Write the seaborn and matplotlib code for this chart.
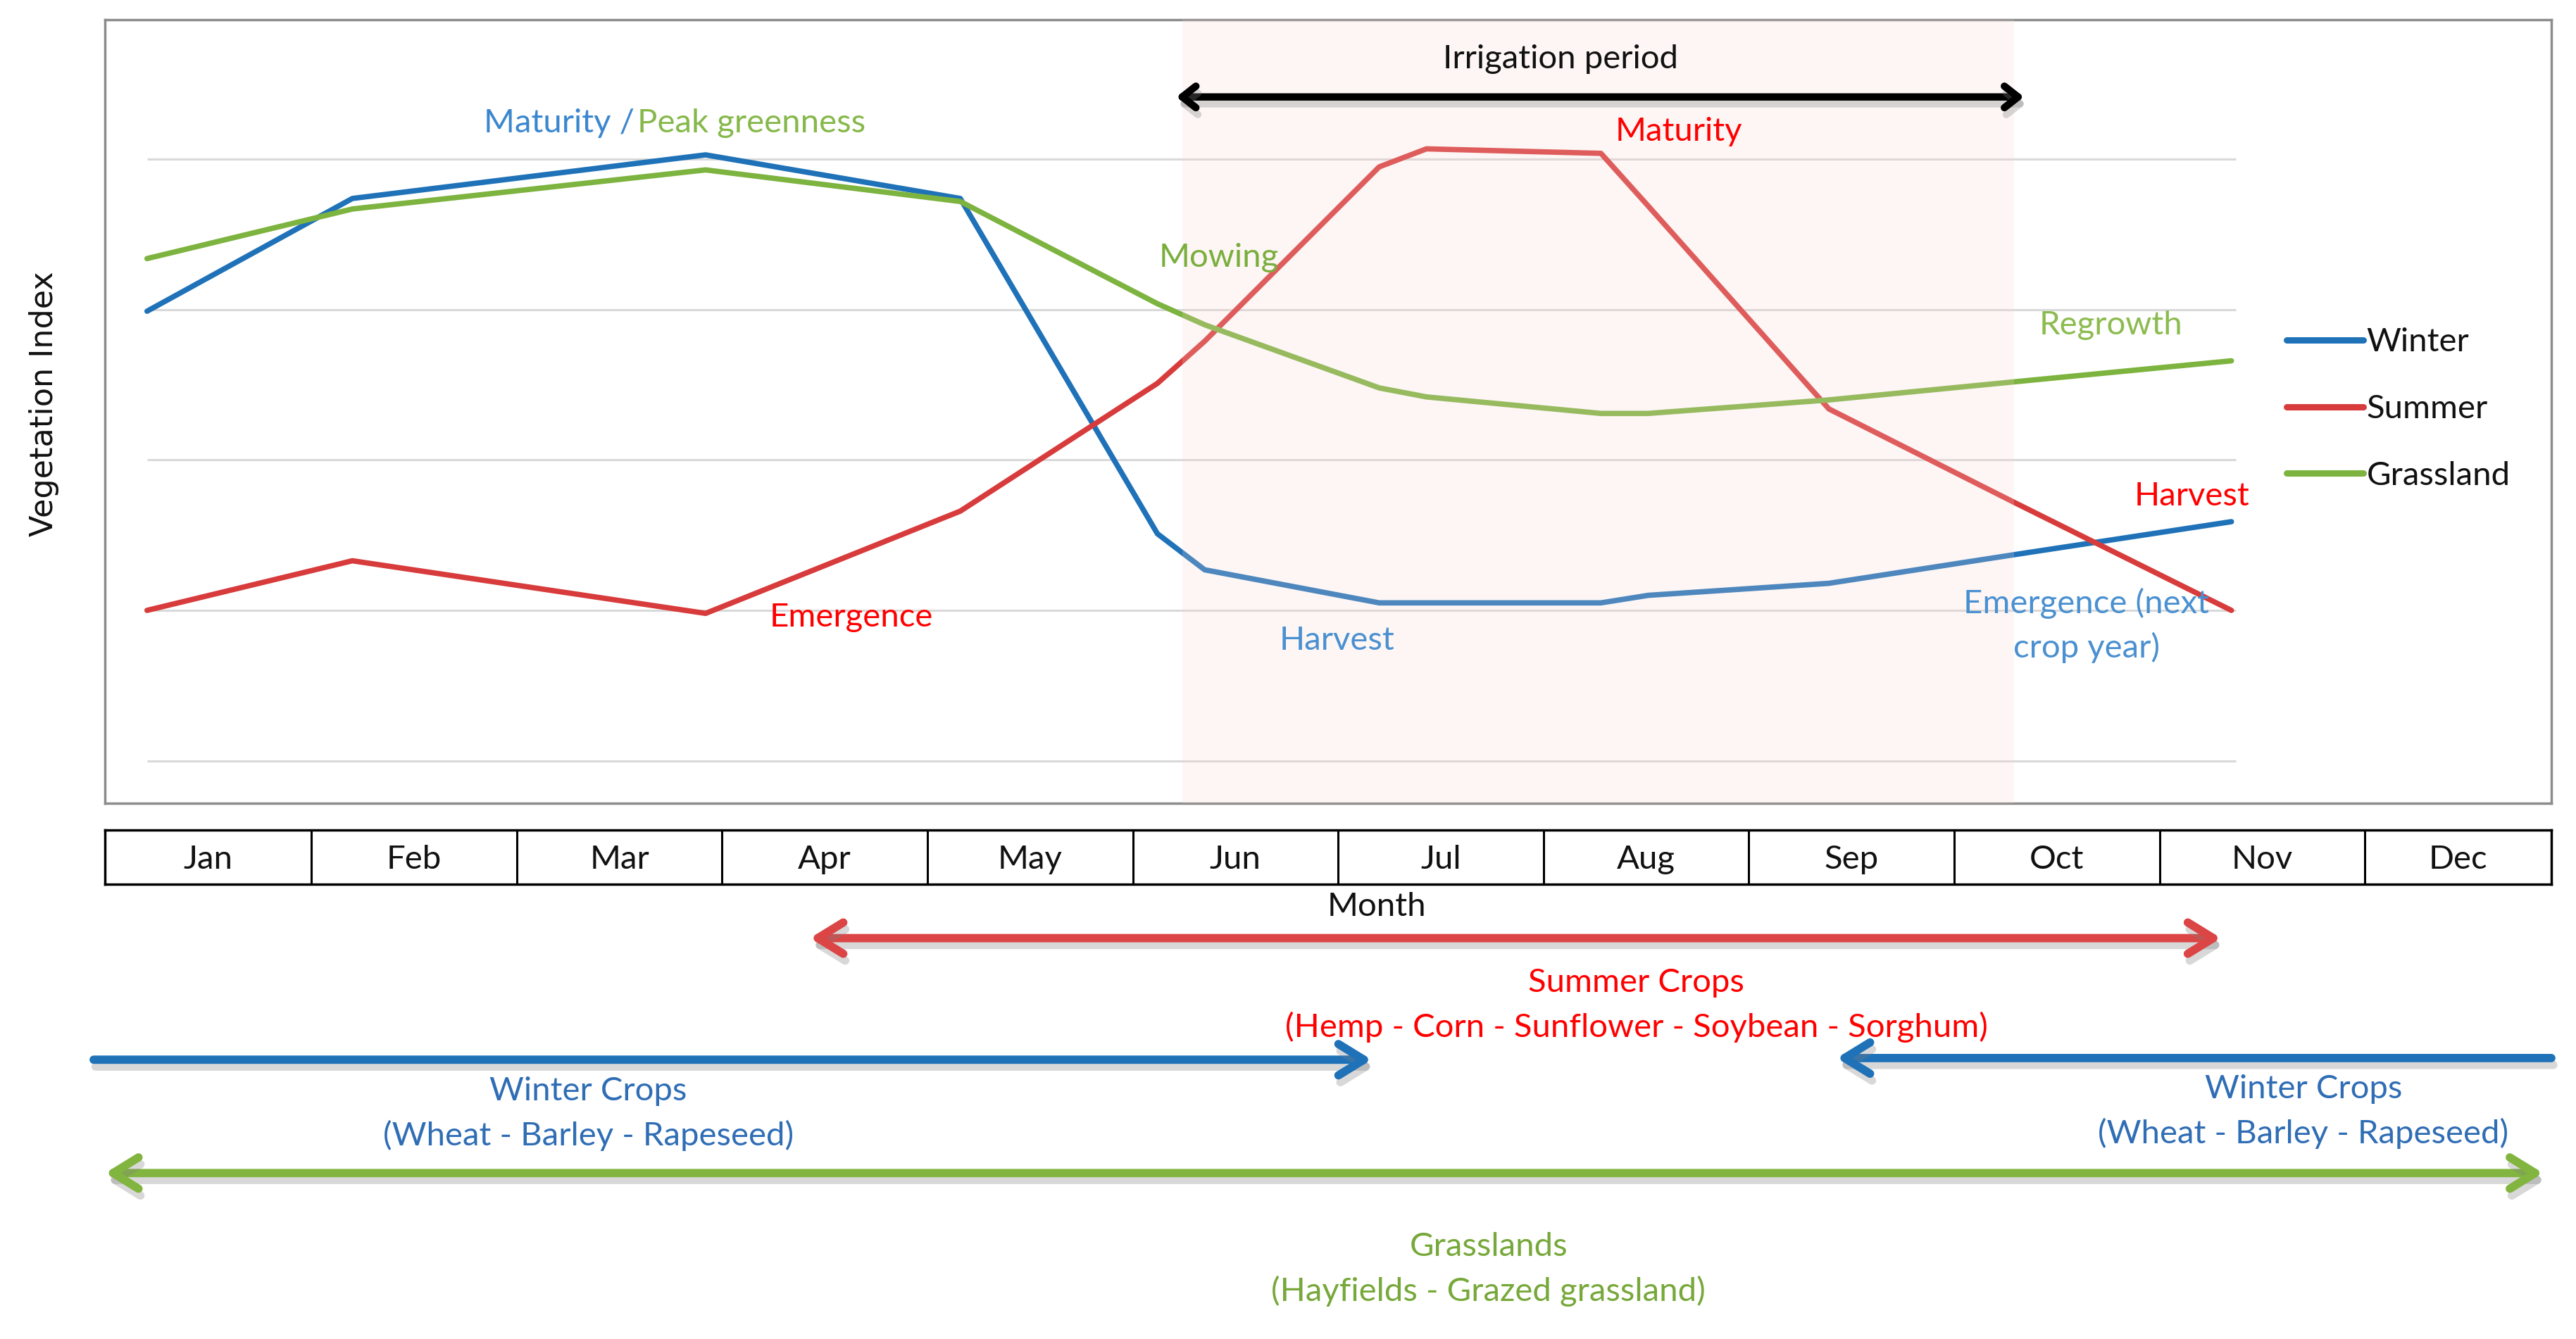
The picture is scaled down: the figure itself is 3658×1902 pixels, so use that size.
import matplotlib
matplotlib.use("Agg")
import matplotlib.pyplot as plt
import matplotlib.patheffects as pe
from matplotlib.patches import FancyArrowPatch
from matplotlib.lines import Line2D
import seaborn as sns
import pandas as pd

# ---------------- data ----------------
months = ["Jan", "Feb", "Mar", "Apr", "May", "Jun", "Jul", "Aug", "Sep", "Oct", "Nov", "Dec"]
# positions of curve vertices in month units (Jan centre = 1)
month_pos = [0.70, 1.70, 3.42, 4.66, 5.62, 5.85, 6.70, 6.93, 7.78, 8.01, 8.89, 9.79, 10.85]
winter = [2.99, 3.74, 4.03, 3.74, 1.51, 1.27, 1.05, 1.05, 1.05, 1.10, 1.18, 1.37, 1.59]
summer = [1.00, 1.33, 0.98, 1.66, 2.51, 2.79, 3.95, 4.07, 4.04, 3.69, 2.34, 1.72, 1.00]
grassland = [3.34, 3.67, 3.93, 3.72, 3.04, 2.90, 2.48, 2.42, 2.31, 2.31, 2.40, 2.52, 2.66]
series_names = ["Winter", "Summer", "Grassland"]
grid_levels = [0, 1, 2, 3, 4]
irrigation = (5.74, 9.79)

df = pd.DataFrame({
    "month": month_pos * 3,
    "vi": winter + summer + grassland,
    "series": [s for s in series_names for _ in month_pos],
})

# ---------------- style ----------------
sns.set_theme(style="white")
plt.rcParams["font.family"] = ["Lato", "DejaVu Sans"]

W, H = 1568.0, 815.0
def fx(px):
    return px / W
def fy(py):
    return 1 - py / H

C_WIN, C_SUM, C_GRA = "#1f72b8", "#d83b3b", "#7db33f"
palette = {"Winter": C_WIN, "Summer": C_SUM, "Grassland": C_GRA}
T_BLUE, T_RED = "#3b87cf", "#ff0000"

fig = plt.figure(figsize=(36.58, 19.02), dpi=100)

XL = (0.496, 12.408)
ax = fig.add_axes([fx(64), fy(489), fx(1553) - fx(64), (489 - 12) / H])
ax.set_xlim(*XL)
ax.set_ylim(-0.284, 4.929)

ax.hlines(grid_levels, month_pos[0], 10.87, color="#d9d9d9", lw=2.2, zorder=1)
sns.lineplot(data=df, x="month", y="vi", hue="series", hue_order=series_names,
             palette=palette, sort=False, estimator=None, lw=5.5, ax=ax,
             legend=False, zorder=2)
ax.axvspan(*irrigation, color="#f6d6d2", alpha=0.22, lw=0, zorder=3)

ax.set_xticks([])
ax.set_yticks([])
ax.set_xlabel("")
ax.set_ylabel("Vegetation Index", fontsize=32, family="DejaVu Sans", color="#111111")
ax.yaxis.set_label_coords((36 - 64) / (1553 - 64), (489 - 246) / 477.0)
for sp in ax.spines.values():
    sp.set_color("#8c8c8c")
    sp.set_linewidth(2.5)

handles = [Line2D([0], [0], color=palette[s], lw=6.5, solid_capstyle="round") for s in series_names]
ax.legend(handles, series_names, loc="center left", bbox_to_anchor=(fx(1392), fy(249)),
          bbox_transform=fig.transFigure, frameon=False, fontsize=34,
          handlelength=2.3, handletextpad=0.1, labelspacing=1.12,
          borderpad=0, borderaxespad=0, labelcolor="#111111")

# ---------------- annotations in chart ----------------
FS = 34
fig.text(fx(386), fy(75), "Maturity /", color=T_BLUE, fontsize=FS, ha="right", va="center")
fig.text(fx(388), fy(75), "Peak greenness", color="#86b84a", fontsize=FS, ha="left", va="center")
fig.text(fx(742), fy(157), "Mowing", color="#7aae3c", fontsize=FS, ha="center", va="center")
fig.text(fx(1022), fy(80), "Maturity", color=T_RED, fontsize=FS, ha="center", va="center")
fig.text(fx(1285), fy(198), "Regrowth", color="#8cbb4f", fontsize=FS, ha="center", va="center")
fig.text(fx(1334), fy(302), "Harvest", color=T_RED, fontsize=FS, ha="center", va="center")
fig.text(fx(814), fy(390), "Harvest", color="#4a90d0", fontsize=FS, ha="center", va="center")
fig.text(fx(518), fy(376), "Emergence", color=T_RED, fontsize=FS, ha="center", va="center")
fig.text(fx(1270), fy(367), "Emergence (next", color="#4a90d0", fontsize=FS, ha="center", va="center")
fig.text(fx(1270), fy(394), "crop year)", color="#4a90d0", fontsize=FS, ha="center", va="center")
fig.text(fx(950), fy(36), "Irrigation period", color="#111111", fontsize=FS, ha="center", va="center")

shadow = [pe.SimpleLineShadow(offset=(2, -7), shadow_color="#7f7f7f", alpha=0.3), pe.Normal()]

def arrow(x0, x1, y, style, color, lw, hl, hw):
    a = FancyArrowPatch((fx(x0), fy(y)), (fx(x1), fy(y)), transform=fig.transFigure,
                        arrowstyle=f"{style},head_length={hl},head_width={hw}",
                        mutation_scale=10, color=color, lw=lw, shrinkA=0, shrinkB=0,
                        capstyle="round", joinstyle="round", path_effects=shadow, zorder=10)
    fig.add_artist(a)

arrow(716, 1232, 59, "<->", "black", 7.5, 1.4, 1.1)

# ---------------- month table ----------------
tab = fig.add_axes([fx(64), fy(538), fx(1553) - fx(64), (538 - 505) / H])
tab.set_xlim(*XL)
tab.set_ylim(0, 1)
tab.set_xticks([])
tab.set_yticks([])
for sp in tab.spines.values():
    sp.set_color("black")
    sp.set_linewidth(2.5)
bounds = [XL[0]] + [i + 0.5 for i in range(1, 12)] + [XL[1]]
tab.vlines(bounds[1:-1], 0, 1, color="black", lw=2.2)
for i, m in enumerate(months):
    tab.text((bounds[i] + bounds[i + 1]) / 2, 0.45, m, ha="center", va="center",
             fontsize=FS, color="#111111")
fig.text(fx(838), fy(552), "Month", ha="center", va="center", fontsize=FS, color="#111111")

# ---------------- crop period arrows ----------------
arrow(493, 1352, 571, "<->", "#dc4545", 8.5, 2.6, 1.6)
fig.text(fx(996), fy(598), "Summer Crops", color=T_RED, fontsize=FS, ha="center", va="center")
fig.text(fx(996), fy(625), "(Hemp - Corn - Sunflower - Soybean - Sorghum)", color=T_RED,
         fontsize=FS, ha="center", va="center")

arrow(57, 835, 645, "->", C_WIN, 8.5, 2.6, 1.6)
arrow(1553, 1118, 644, "->", C_WIN, 8.5, 2.6, 1.6)
fig.text(fx(358), fy(664), "Winter Crops", color="#2f6db5", fontsize=FS, ha="center", va="center")
fig.text(fx(358), fy(691), "(Wheat - Barley - Rapeseed)", color="#2f6db5", fontsize=FS, ha="center", va="center")
fig.text(fx(1402), fy(663), "Winter Crops", color="#2f6db5", fontsize=FS, ha="center", va="center")
fig.text(fx(1402), fy(690), "(Wheat - Barley - Rapeseed)", color="#2f6db5", fontsize=FS, ha="center", va="center")

arrow(64, 1548, 714, "<->", "#82b540", 8.5, 2.6, 1.6)
fig.text(fx(906), fy(759), "Grasslands", color="#77a83a", fontsize=FS, ha="center", va="center")
fig.text(fx(906), fy(786), "(Hayfields - Grazed grassland)", color="#77a83a", fontsize=FS, ha="center", va="center")

fig.savefig("out.png", dpi=100, facecolor="white")
